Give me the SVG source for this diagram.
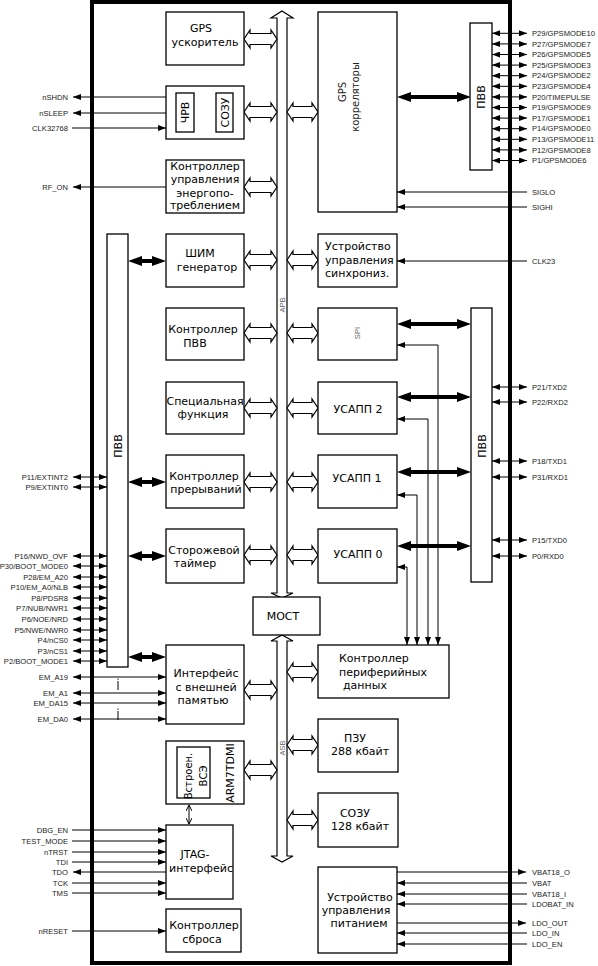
<svg xmlns="http://www.w3.org/2000/svg" xmlns:xlink="http://www.w3.org/1999/xlink" width="598" height="966" viewBox="0 0 598 966">
<style>
.b{fill:#fff;stroke:#000;stroke-width:1.3}
.t{font-family:"DejaVu Sans",sans-serif;font-size:11px;fill:#000;text-anchor:middle}
.tl{font-family:"DejaVu Sans",sans-serif;font-size:11px;fill:#000}
.p{font-family:"Liberation Sans",Arial,sans-serif;font-size:7.6px;fill:#222}
.pr{font-family:"Liberation Sans",Arial,sans-serif;font-size:7.6px;fill:#222;text-anchor:end}
.g{font-family:"Liberation Sans",Arial,sans-serif;font-size:7.6px;fill:#666;text-anchor:middle}
.w{stroke:#000;stroke-width:1;fill:none}
.d{marker-start:url(#ah);marker-end:url(#ah)}
.e{marker-end:url(#ah)}
.ho{fill:#fff;stroke:#000;stroke-width:1.2}
.tk{fill:#000;stroke:none}
</style>
<defs>
<marker id="ah" viewBox="0 0 8 6" refX="8" refY="3" markerWidth="8" markerHeight="6" markerUnits="userSpaceOnUse" orient="auto-start-reverse"><path d="M0,0 L8,3 L0,6 z" fill="#000"/></marker>
<marker id="as" viewBox="0 0 6 6" refX="6" refY="3" markerWidth="6" markerHeight="6" markerUnits="userSpaceOnUse" orient="auto-start-reverse"><path d="M0,0 L6,3 L0,6" fill="none" stroke="#000" stroke-width="1"/></marker>
<path id="hl" class="ho" d="M0,0 L6,-9 L6,-5.5 L27,-5.5 L27,-9 L33,0 L27,9 L27,5.5 L6,5.5 L6,9 Z"/>
<path id="hr" class="ho" d="M0,0 L6,-9 L6,-5.5 L25,-5.5 L25,-9 L31,0 L25,9 L25,5.5 L6,5.5 L6,9 Z"/>
<path id="ts" class="tk" d="M0,0 L14,-5 L14,-2 L24,-2 L24,-5 L38,0 L24,5 L24,2 L14,2 L14,5 Z"/>
<path id="tl" class="tk" d="M0,0 L14,-5 L14,-2 L60,-2 L60,-5 L74,0 L60,5 L60,2 L14,2 L14,5 Z"/>
</defs>

<rect x="0" y="0" width="598" height="966" fill="#fff"/>
<rect id="chip" x="92" y="2" width="418" height="961" fill="none" stroke="#000" stroke-width="4"/>

<g id="buses">
<path class="ho" d="M277,593 L277,18 L271,18 L282,11 L293,18 L287,18 L287,593 L293,593 L282,598 L271,593 Z"/>
<text class="g" transform="translate(282,305) rotate(-90)" y="2.7">APB</text>
<path class="ho" d="M277,641 L271,641 L282,635 L293,641 L287,641 L287,856 L293,856 L282,862 L271,856 L277,856 Z"/>
<text class="g" transform="translate(282,748) rotate(-90)" y="2.7">ASB</text>
</g>

<g id="connectors">
<use href="#hl" x="244" y="39"/>
<use href="#hl" x="244" y="112"/>
<use href="#hl" x="244" y="187"/>
<use href="#hl" x="244" y="260"/>
<use href="#hl" x="244" y="333"/>
<use href="#hl" x="244" y="408"/>
<use href="#hl" x="244" y="482"/>
<use href="#hl" x="244" y="555"/>
<use href="#hl" x="244" y="690"/>
<use href="#hl" x="244" y="770"/>
<use href="#hr" x="287" y="112"/>
<use href="#hr" x="287" y="260"/>
<use href="#hr" x="287" y="333"/>
<use href="#hr" x="287" y="408"/>
<use href="#hr" x="287" y="482"/>
<use href="#hr" x="287" y="555"/>
<use href="#hr" x="287" y="672"/>
<use href="#hr" x="287" y="745"/>
<use href="#hr" x="287" y="820"/>
<use href="#tl" x="397" y="97"/>
<use href="#tl" x="397" y="324"/>
<use href="#tl" x="397" y="397"/>
<use href="#tl" x="397" y="472"/>
<use href="#tl" x="397" y="546"/>
<use href="#ts" x="128" y="261"/>
<use href="#ts" x="128" y="482"/>
<use href="#ts" x="128" y="556"/>
<use href="#ts" x="128" y="657"/>
<path class="w d" d="M397,345 H438 V645"/>
<path class="w d" d="M397,419 H428 V645"/>
<path class="w d" d="M397,495 H417 V645"/>
<path class="w d" d="M397,567 H407 V645"/>
<line class="w" x1="189" y1="805" x2="189" y2="824" marker-start="url(#as)" marker-end="url(#as)"/>
<line class="w e" x1="166" y1="97" x2="73" y2="97"/>
<line class="w e" x1="166" y1="113" x2="73" y2="113"/>
<line class="w e" x1="72" y1="128" x2="166" y2="128"/>
<line class="w e" x1="166" y1="187" x2="73" y2="187"/>
<line class="w d" x1="73" y1="477" x2="107" y2="477"/>
<line class="w d" x1="73" y1="487" x2="107" y2="487"/>
<line class="w d" x1="73" y1="556" x2="107" y2="556"/>
<line class="w d" x1="73" y1="566" x2="107" y2="566"/>
<line class="w d" x1="73" y1="577" x2="107" y2="577"/>
<line class="w d" x1="73" y1="587" x2="107" y2="587"/>
<line class="w d" x1="73" y1="598" x2="107" y2="598"/>
<line class="w d" x1="73" y1="608" x2="107" y2="608"/>
<line class="w d" x1="73" y1="619" x2="107" y2="619"/>
<line class="w d" x1="73" y1="630" x2="107" y2="630"/>
<line class="w d" x1="73" y1="640" x2="107" y2="640"/>
<line class="w d" x1="73" y1="651" x2="107" y2="651"/>
<line class="w d" x1="73" y1="661" x2="107" y2="661"/>
<line class="w d" x1="73" y1="677" x2="166" y2="677"/>
<line class="w d" x1="73" y1="693" x2="166" y2="693"/>
<line class="w d" x1="73" y1="703" x2="166" y2="703"/>
<line class="w d" x1="73" y1="719" x2="166" y2="719"/>
<path d="M118,681 V690 M118,711 V720" stroke="#000" stroke-width="1"/>
<path d="M118,678.5 V679.8 M118,708.5 V709.8" stroke="#000" stroke-width="1"/>
<line class="w e" x1="72" y1="830" x2="166" y2="830"/>
<line class="w e" x1="72" y1="841" x2="166" y2="841"/>
<line class="w e" x1="72" y1="852" x2="166" y2="852"/>
<line class="w e" x1="72" y1="862" x2="166" y2="862"/>
<line class="w e" x1="166" y1="872" x2="73" y2="872"/>
<line class="w e" x1="72" y1="883" x2="166" y2="883"/>
<line class="w e" x1="72" y1="893" x2="166" y2="893"/>
<line class="w e" x1="72" y1="931" x2="166" y2="931"/>
<line class="w d" x1="492" y1="33.3" x2="527" y2="33.3"/>
<line class="w d" x1="492" y1="43.9" x2="527" y2="43.9"/>
<line class="w d" x1="492" y1="54.5" x2="527" y2="54.5"/>
<line class="w d" x1="492" y1="65.1" x2="527" y2="65.1"/>
<line class="w d" x1="492" y1="75.7" x2="527" y2="75.7"/>
<line class="w d" x1="492" y1="86.3" x2="527" y2="86.3"/>
<line class="w d" x1="492" y1="96.9" x2="527" y2="96.9"/>
<line class="w d" x1="492" y1="107.5" x2="527" y2="107.5"/>
<line class="w d" x1="492" y1="118.1" x2="527" y2="118.1"/>
<line class="w d" x1="492" y1="128.7" x2="527" y2="128.7"/>
<line class="w d" x1="492" y1="139.3" x2="527" y2="139.3"/>
<line class="w d" x1="492" y1="149.9" x2="527" y2="149.9"/>
<line class="w d" x1="492" y1="160.5" x2="527" y2="160.5"/>
<line class="w e" x1="527" y1="192" x2="397" y2="192"/>
<line class="w e" x1="527" y1="207" x2="397" y2="207"/>
<line class="w e" x1="527" y1="261" x2="397" y2="261"/>
<line class="w d" x1="492" y1="387" x2="527" y2="387"/>
<line class="w d" x1="492" y1="402" x2="527" y2="402"/>
<line class="w d" x1="492" y1="461" x2="527" y2="461"/>
<line class="w d" x1="492" y1="477" x2="527" y2="477"/>
<line class="w d" x1="492" y1="540" x2="527" y2="540"/>
<line class="w d" x1="492" y1="556" x2="527" y2="556"/>
<line class="w e" x1="397" y1="872" x2="526" y2="872"/>
<line class="w e" x1="527" y1="883" x2="397" y2="883"/>
<line class="w e" x1="527" y1="894" x2="397" y2="894"/>
<line class="w e" x1="527" y1="904" x2="397" y2="904"/>
<line class="w e" x1="397" y1="923" x2="526" y2="923"/>
<line class="w e" x1="527" y1="933" x2="397" y2="933"/>
<line class="w e" x1="527" y1="944" x2="397" y2="944"/>
</g>

<g id="pin-labels">
<text class="pr" x="68" y="99.7">nSHDN</text>
<text class="pr" x="68" y="115.7">nSLEEP</text>
<text class="pr" x="68" y="130.7">CLK32768</text>
<text class="pr" x="68" y="189.7">RF_ON</text>
<text class="pr" x="68" y="479.7">P11/EXTINT2</text>
<text class="pr" x="68" y="489.7">P9/EXTINT0</text>
<text class="pr" x="68" y="558.7">P16/NWD_OVF</text>
<text class="pr" x="68" y="568.7">P30/BOOT_MODE0</text>
<text class="pr" x="68" y="579.7">P28/EM_A20</text>
<text class="pr" x="68" y="589.7">P10/EM_A0/NLB</text>
<text class="pr" x="68" y="600.7">P8/PDSR8</text>
<text class="pr" x="68" y="610.7">P7/NUB/NWR1</text>
<text class="pr" x="68" y="621.7">P6/NOE/NRD</text>
<text class="pr" x="68" y="632.7">P5/NWE/NWR0</text>
<text class="pr" x="68" y="642.7">P4/nCS0</text>
<text class="pr" x="68" y="653.7">P3/nCS1</text>
<text class="pr" x="68" y="663.7">P2/BOOT_MODE1</text>
<text class="pr" x="68" y="679.7">EM_A19</text>
<text class="pr" x="68" y="695.7">EM_A1</text>
<text class="pr" x="68" y="705.7">EM_DA15</text>
<text class="pr" x="68" y="721.7">EM_DA0</text>
<text class="pr" x="68" y="832.7">DBG_EN</text>
<text class="pr" x="68" y="843.7">TEST_MODE</text>
<text class="pr" x="68" y="854.7">nTRST</text>
<text class="pr" x="68" y="864.7">TDI</text>
<text class="pr" x="68" y="874.7">TDO</text>
<text class="pr" x="68" y="885.7">TCK</text>
<text class="pr" x="68" y="895.7">TMS</text>
<text class="pr" x="68" y="933.7">nRESET</text>
<text class="p" x="532" y="36">P29/GPSMODE10</text>
<text class="p" x="532" y="46.6">P27/GPSMODE7</text>
<text class="p" x="532" y="57.2">P26/GPSMODE5</text>
<text class="p" x="532" y="67.8">P25/GPSMODE3</text>
<text class="p" x="532" y="78.4">P24/GPSMODE2</text>
<text class="p" x="532" y="89">P23/GPSMODE4</text>
<text class="p" x="532" y="99.6">P20/TIMEPULSE</text>
<text class="p" x="532" y="110.2">P19/GPSMODE9</text>
<text class="p" x="532" y="120.8">P17/GPSMODE1</text>
<text class="p" x="532" y="131.4">P14/GPSMODE0</text>
<text class="p" x="532" y="142">P13/GPSMODE11</text>
<text class="p" x="532" y="152.6">P12/GPSMODE8</text>
<text class="p" x="532" y="163.2">P1/GPSMODE6</text>
<text class="p" x="532" y="194.7">SIGLO</text>
<text class="p" x="532" y="209.7">SIGHI</text>
<text class="p" x="532" y="263.7">CLK23</text>
<text class="p" x="532" y="389.7">P21/TXD2</text>
<text class="p" x="532" y="404.7">P22/RXD2</text>
<text class="p" x="532" y="463.7">P18/TXD1</text>
<text class="p" x="532" y="479.7">P31/RXD1</text>
<text class="p" x="532" y="542.7">P15/TXD0</text>
<text class="p" x="532" y="558.7">P0/RXD0</text>
<text class="p" x="532" y="874.7">VBAT18_O</text>
<text class="p" x="532" y="885.7">VBAT</text>
<text class="p" x="532" y="896.7">VBAT18_I</text>
<text class="p" x="532" y="906.7">LDOBAT_IN</text>
<text class="p" x="532" y="925.7">LDO_OUT</text>
<text class="p" x="532" y="935.7">LDO_IN</text>
<text class="p" x="532" y="946.7">LDO_EN</text>
</g>

<g id="gpio-left"><rect class="b" x="107" y="234" width="21" height="433"/><text class="t" transform="translate(117.5,446) rotate(-90)" y="4">ПВВ</text></g>
<g id="gpio-right-top"><rect class="b" x="470" y="23" width="22" height="147"/><text class="t" transform="translate(481,97) rotate(-90)" y="4">ПВВ</text></g>
<g id="gpio-right"><rect class="b" x="471" y="308" width="21" height="274"/><text class="t" transform="translate(481.5,446) rotate(-90)" y="4">ПВВ</text></g>

<g id="gps-acc"><rect class="b" x="166" y="12" width="78" height="53"/><text class="t" x="201" y="32">GPS</text><text class="t" x="205" y="46">ускоритель</text></g>
<g id="rtc"><rect class="b" x="166" y="86" width="78" height="53"/>
<rect class="b" x="176" y="93" width="18" height="39"/><text class="t" transform="translate(185,112.5) rotate(-90)" y="4">ЧРВ</text>
<rect class="b" x="216" y="93" width="17" height="39"/><text class="t" transform="translate(224.5,112.5) rotate(-90)" y="4">СОЗУ</text></g>
<g id="pwr-ctl"><rect class="b" x="166" y="160" width="78" height="53"/><text class="t" x="205" y="170">Контроллер</text><text class="t" x="205" y="183">управления</text><text class="t" x="205" y="197">энергопо-</text><text class="t" x="205" y="209">треблением</text></g>
<g id="pwm"><rect class="b" x="166" y="234" width="78" height="53"/><text class="t" x="200" y="257">ШИМ</text><text class="t" x="207" y="271">генератор</text></g>
<g id="gpio-ctl"><rect class="b" x="166" y="308" width="78" height="52"/><text class="t" x="203" y="333">Контроллер</text><text class="t" x="195" y="347">ПВВ</text></g>
<g id="special"><rect class="b" x="166" y="382" width="78" height="52"/><text class="t" x="205" y="405">Специальная</text><text class="t" x="203" y="418">функция</text></g>
<g id="intc"><rect class="b" x="166" y="455" width="78" height="53"/><text class="t" x="204" y="480">Контроллер</text><text class="t" x="206" y="493">прерываний</text></g>
<g id="wdt"><rect class="b" x="166" y="529" width="78" height="54"/><text class="t" x="204" y="554">Сторожевой</text><text class="t" x="195" y="567">таймер</text></g>
<g id="bridge"><rect class="b" x="253" y="597" width="67" height="38"/><text class="t" x="283" y="620">МОСТ</text></g>
<g id="emi"><rect class="b" x="166" y="645" width="78" height="79"/><text class="t" x="206" y="677">Интерфейс</text><text class="t" x="206" y="691">с внешней</text><text class="t" x="203" y="704">памятью</text></g>
<g id="arm"><rect class="b" x="166" y="741" width="78" height="63"/>
<rect class="b" x="177" y="747" width="33" height="51"/>
<text class="t" style="font-size:10px" transform="translate(188,776) rotate(-90)" y="3.5">Встроен.</text>
<text class="t" style="font-size:10px" transform="translate(203,776) rotate(-90)" y="3.5">ВСЭ</text>
<text class="t" transform="translate(230,773) rotate(-90)" y="4">ARM7TDMI</text></g>
<g id="jtag"><rect class="b" x="166" y="825" width="67" height="74"/><text class="t" x="195" y="858">JTAG-</text><text class="t" x="201" y="872">интерфейс</text></g>
<g id="reset"><rect class="b" x="166" y="909" width="75" height="43"/><text class="t" x="204" y="929">Контроллер</text><text class="t" x="202" y="943">сброса</text></g>

<g id="gps-corr"><rect class="b" x="318" y="12" width="79" height="200"/>
<text class="t" style="font-size:10px;fill:#222" transform="translate(342,92) rotate(-90)" y="3.5">GPS</text>
<text class="t" style="font-size:10px;fill:#222" transform="translate(355,97) rotate(-90)" y="3.5">корреляторы</text></g>
<g id="sync"><rect class="b" x="318" y="234" width="79" height="53"/><text class="tl" x="325" y="250">Устройство</text><text class="tl" x="325" y="264">управления</text><text class="tl" x="325" y="277">синхрониз.</text></g>
<g id="spi"><rect class="b" x="318" y="308" width="79" height="52"/><text class="g" transform="translate(357,333) rotate(-90)" y="2.7">SPI</text></g>
<g id="uart2"><rect class="b" x="318" y="382" width="79" height="52"/><text class="t" x="358" y="413">УСАПП 2</text></g>
<g id="uart1"><rect class="b" x="318" y="455" width="79" height="53"/><text class="t" x="357" y="482">УСАПП 1</text></g>
<g id="uart0"><rect class="b" x="318" y="529" width="79" height="54"/><text class="t" x="358" y="558">УСАПП 0</text></g>
<g id="pdc"><rect class="b" x="318" y="645" width="131" height="53"/><text class="tl" x="339" y="662">Контроллер</text><text class="tl" x="339" y="676">периферийных</text><text class="tl" x="343" y="689">данных</text></g>
<g id="rom"><rect class="b" x="318" y="719" width="80" height="53"/><text class="t" x="355" y="742">ПЗУ</text><text class="t" x="360" y="755">288 кбайт</text></g>
<g id="sram"><rect class="b" x="318" y="793" width="80" height="54"/><text class="t" x="355" y="817">СОЗУ</text><text class="t" x="360" y="830">128 кбайт</text></g>
<g id="pmu"><rect class="b" x="318" y="867" width="79" height="86"/><text class="t" x="360" y="901">Устройство</text><text class="t" x="356" y="914">управления</text><text class="t" x="359" y="927">питанием</text></g>
</svg>
